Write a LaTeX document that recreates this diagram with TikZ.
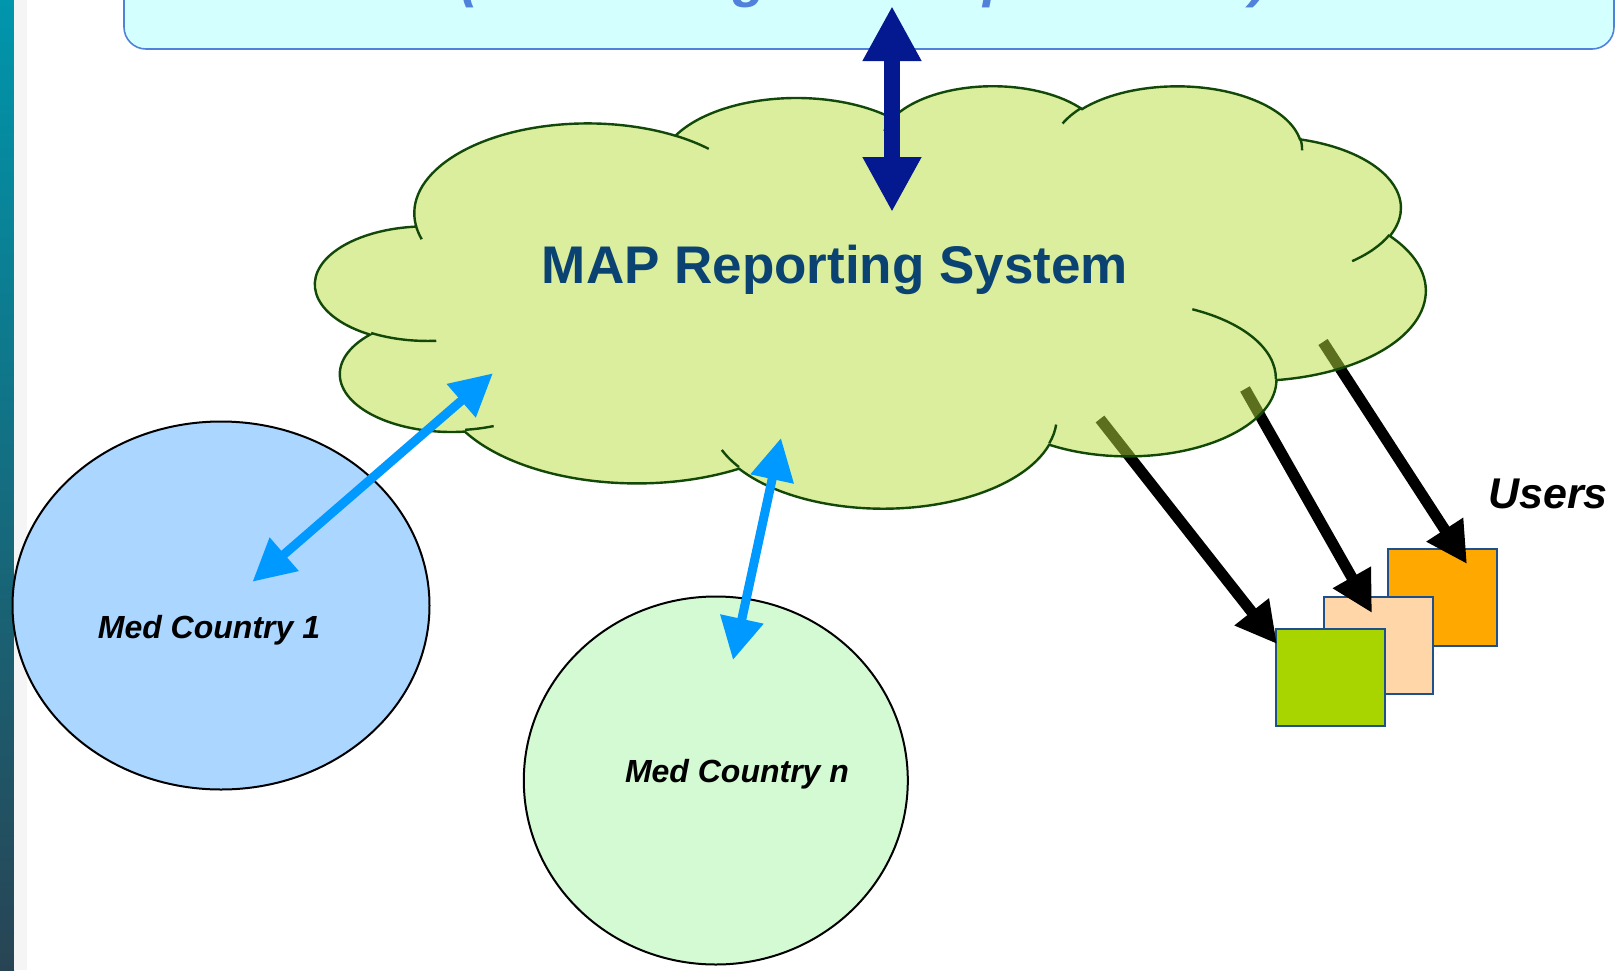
\documentclass[tikz,border=0pt]{standalone}
\usepackage{fontspec}
\setmainfont{Liberation Sans}
\usetikzlibrary{arrows.meta,shapes.geometric}

\definecolor{stripTop}{RGB}{0,150,172}
\definecolor{stripMid}{RGB}{0,112,132}
\definecolor{stripBot}{RGB}{40,68,84}
\definecolor{boxFill}{RGB}{212,255,255}
\definecolor{boxLine}{RGB}{80,130,220}
\definecolor{cloudFill}{RGB}{182,223,61}
\definecolor{cloudLine}{RGB}{18,72,8}
\definecolor{mapText}{RGB}{10,66,114}
\definecolor{navyArrow}{RGB}{4,24,143}
\definecolor{skyArrow}{RGB}{0,153,255}
\definecolor{countryA}{RGB}{170,214,255}
\definecolor{countryB}{RGB}{212,250,212}
\definecolor{userOrange}{RGB}{255,168,0}
\definecolor{userPeach}{RGB}{255,214,168}
\definecolor{userGreen}{RGB}{168,212,0}
\definecolor{userLine}{RGB}{30,80,140}

\begin{document}
\begin{tikzpicture}[x=1pt,y=-1pt,
  country/.style={ellipse, draw=black, line width=2pt, inner sep=0pt},
  countrylabel/.style={font=\bfseries\itshape\fontsize{32}{38}\selectfont, inner sep=0pt, anchor=base},
  userbox/.style={rectangle, draw=userLine, line width=1.6pt, inner sep=0pt,
    minimum width=109pt, minimum height=97pt},
  userarrow/.style={line width=11pt, black, -{Triangle[length=41pt,width=41pt]}},
  linkarrow/.style={line width=9pt, skyArrow,
    {Triangle[length=42pt,width=42pt]}-{Triangle[length=42pt,width=42pt]}},
  mainarrow/.style={line width=16pt, navyArrow,
    {Triangle[length=55pt,width=55pt]}-{Triangle[length=55pt,width=55pt]}},
  cloudedge/.style={draw=cloudLine, line width=2.4pt},
  fragment/.style={font=\bfseries\itshape\fontsize{55}{60}\selectfont, text=boxLine,
    inner sep=0pt, anchor=base}]

\useasboundingbox (0,0) rectangle (1623,970);
\clip (0,0) rectangle (1623,970);
\fill[white] (0,0) rectangle (1623,970);

% side band
\shade[top color=stripTop, middle color=stripMid, bottom color=stripBot]
  (0,0) rectangle (14,970);
\fill[black!4] (14,0) rectangle (27,970);

% upper system box, mostly above the page
\node[draw=boxLine, fill=boxFill, line width=1.6pt, rounded corners=22pt,
  minimum width=1490pt, minimum height=140pt, inner sep=0pt] (regional) at (869,-21) {};
\node[fragment] (fragA) at (470,-4) {(};
\node[fragment] (fragB) at (750,-4) {g};
\node[fragment] (fragC) at (1000,-4) {p};
\node[fragment] (fragD) at (1260,-4) {)};

% users
\node[userbox, fill=userOrange] (userC) at (1442.5,597.5) {};
\node[userbox, fill=userPeach]  (userB) at (1378.5,645.5) {};
\node[userbox, fill=userGreen]  (userA) at (1330.5,677.5) {};
\node[font=\bfseries\itshape\fontsize{43}{50}\selectfont, inner sep=0pt, anchor=base]
  (users) at (1548,508) {Users};

% report feeds to the users (under the cloud)
\coordinate (feedAs) at (1100,419); \coordinate (feedAe) at (1277,644);
\coordinate (feedBs) at (1245,389); \coordinate (feedBe) at (1372,613);
\coordinate (feedCs) at (1323,342); \coordinate (feedCe) at (1467,564);
\draw[userarrow] (feedAs) -- (feedAe);
\draw[userarrow] (feedBs) -- (feedBe);
\draw[userarrow] (feedCs) -- (feedCe);

% cloud
\begin{scope}[shift={(315.7,84.88)}, xscale=2.5686, yscale=0.97757]
  \path[fill=cloudFill, fill opacity=0.5, cloudedge]
    (39.00,143.70)
    arc[start angle=-187.745, delta angle=128.108, x radius=67.53, y radius=91.90]
    arc[start angle=-152.056, delta angle=106.610, x radius=53.33, y radius=72.67]
    arc[start angle=-153.492, delta angle=116.170, x radius=43.65, y radius=59.45]
    arc[start angle=-139.713, delta angle=129.502, x radius=48.57, y radius=65.95]
    arc[start angle=-74.767,  delta angle=97.977,  x radius=53.33, y radius=72.73]
    arc[start angle=-37.516,  delta angle=119.378, x radius=67.75, y radius=92.20]
    arc[start angle=0.4596,   delta angle=121.523, x radius=57.85, y radius=78.67]
    arc[start angle=16.845,   delta angle=129.379, x radius=67.52, y radius=92.15]
    arc[start angle=58.986,   delta angle=91.194,  x radius=77.20, y radius=105.43]
    arc[start angle=-276.694, delta angle=139.809, x radius=43.60, y radius=59.18]
    arc[start angle=-239.645, delta angle=143.757, x radius=43.45, y radius=59.45]
    -- cycle;
  \draw[cloudedge]
    (46.93,261.77) arc[start angle=85.546, delta angle=34.809, x radius=43.45, y radius=59.45]
    (69.28,348.99) arc[start angle=68.235, delta angle=15.071, x radius=43.60, y radius=59.18]
    (164.78,390.90) arc[start angle=146.224, delta angle=12.252, x radius=67.52, y radius=92.15]
    (288.27,347.51) arc[start angle=4.738, delta angle=12.107, x radius=67.52, y radius=92.15]
    (341.29,229.54) arc[start angle=-64.033, delta angle=64.493, x radius=57.85, y radius=78.67]
    (417.98,153.54) arc[start angle=23.210, delta angle=26.423, x radius=53.33, y radius=72.73]
    (383.24,54.26) arc[start angle=-10.211, delta angle=11.032, x radius=48.57, y radius=65.95]
    (290.78,39.52) arc[start angle=-156.293, delta angle=16.580, x radius=48.57, y radius=65.95]
    (221.41,47.20) arc[start angle=-167.727, delta angle=15.386, x radius=43.65, y radius=59.45]
    (140.00,51.92) arc[start angle=-59.637, delta angle=13.910, x radius=67.53, y radius=91.90]
    (41.27,157.89) arc[start angle=163.197, delta angle=9.057, x radius=67.53, y radius=91.90];
\end{scope}
\node[font=\bfseries\fontsize{53}{60}\selectfont, text=mapText, inner sep=0pt, anchor=base]
  (map) at (835,283) {MAP Reporting System};

% member countries
\node[country, fill=countryA, minimum width=417pt, minimum height=368pt] (countryOne) at (221,605.5) {};
\node[countrylabel] (countryOneLbl) at (209,638) {Med Country 1};
\node[country, fill=countryB, minimum width=384pt, minimum height=368pt] (countryN) at (715.8,780.5) {};
\node[countrylabel] (countryNLbl) at (737,782) {Med Country n};

% exchanges with the reporting system
\coordinate (linkAs) at (252.5,581.7); \coordinate (linkAe) at (492.9,373.3);
\coordinate (linkBs) at (781,438);     \coordinate (linkBe) at (733,660);
\draw[linkarrow] (linkAs) -- (linkAe);
\draw[linkarrow] (linkBs) -- (linkBe);

\coordinate (mainTop) at (892,6); \coordinate (mainBot) at (892,212);
\draw[mainarrow] (mainTop) -- (mainBot);
\end{tikzpicture}
\end{document}
